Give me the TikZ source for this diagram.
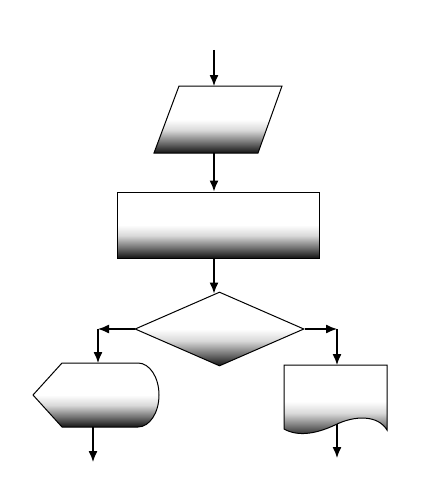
\documentclass[tikz,border=0pt]{standalone}
\usepackage{tikz}
\usetikzlibrary{arrows.meta, positioning, calc, shapes.geometric}

\pgfdeclareverticalshading{fade}{100bp}{color(0bp)=(black); color(25bp)=(black!92); color(33bp)=(black!55); color(42bp)=(black!15); color(50bp)=(white); color(100bp)=(white)}

\tikzset{
    blk/.style={draw, line width=1pt, shading=fade, inner sep=0pt},
    flow/.style={-{Latex[length=11pt, width=9pt]}, line width=1.3pt}
}

\begin{document}
\begin{tikzpicture}[x=1pt, y=-1pt]
    \useasboundingbox (0,0) rectangle (428,495);

    % input
    \coordinate (in) at (214,50);
    \draw[blk] (179,86) -- (282,86) -- (258,153) -- (154,153) -- cycle;
    \coordinate (io top) at (214,86);
    \coordinate (io bot) at (214,153);

    % process
    \node[blk, rectangle, minimum width=202pt, minimum height=66pt] (proc) at (218,225) {};

    % decision
    \node[blk, diamond, minimum width=169pt, minimum height=74pt] (dec) at (219.5,329) {};

    % display
    \draw[blk] (33,395) -- (62,363) -- (138,363)
        .. controls (149.6,363) and (159,377.3) .. (159,395)
        .. controls (159,412.7) and (149.6,427) .. (138,427)
        -- (62,427) -- cycle;
    \coordinate (disp top) at (98,363);
    \coordinate (disp bot) at (93,427);
    \coordinate (out l) at (93,462);

    % document
    \draw[blk] (284,365) -- (387,365) -- (387,430)
        .. controls (378,415) and (355,415) .. (335,425)
        .. controls (320,432) and (300,438) .. (284,429) -- cycle;
    \coordinate (doc top) at (337,365);
    \coordinate (doc bot) at (337,424);
    \coordinate (out r) at (337,458);

    % corners
    \coordinate (lc) at (98,329);
    \coordinate (rc) at (337,329);

    % arrows
    \draw[flow] (in) -- (io top);
    \draw[flow] (io bot) -- (proc.north -| io bot);
    \draw[flow] (proc.south -| io bot) -- ($(dec.north -| io bot)+(0,2)$);
    \draw[flow] (dec.west) -- (lc);
    \draw[flow] (lc) -- (disp top);
    \draw[flow] (dec.east) -- (rc);
    \draw[flow] (rc) -- (doc top);
    \draw[flow] (disp bot) -- (out l);
    \draw[flow] (doc bot) -- (out r);
\end{tikzpicture}
\end{document}
